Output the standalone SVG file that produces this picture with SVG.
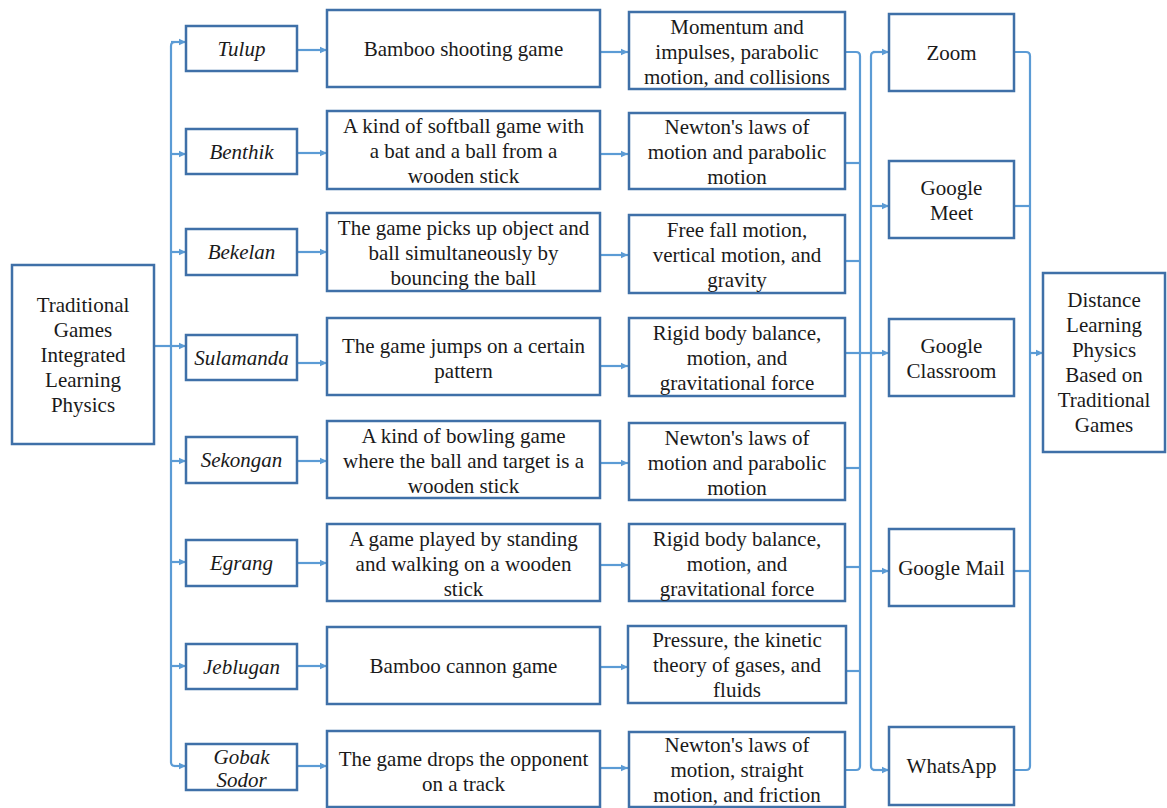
<svg xmlns="http://www.w3.org/2000/svg" width="1167" height="808" viewBox="0 0 1167 808">
<style>
.box{fill:#fff;stroke:#3F70A8;stroke-width:2.5}
.ln{fill:none;stroke:#5B9BD5;stroke-width:2.2}
.ar{fill:none;stroke:#5B9BD5;stroke-width:2.2;marker-end:url(#ah)}
text{font-family:'Liberation Serif','DejaVu Serif',serif;font-size:21px;fill:#1a1a1a;text-anchor:middle}
.it{font-style:italic}
</style>
<defs>
<marker id="ah" markerUnits="userSpaceOnUse" markerWidth="8" markerHeight="8" refX="7" refY="4" orient="auto">
<path d="M0,0.8 L7,4 L0,7.2 Z" fill="#5B9BD5"/>
</marker>
</defs>
<rect width="1167" height="808" fill="#fff"/>

<g id="connectors">
<path class="ln" d="M154,346 H171"/>
<path class="ln" d="M184,42 H175 Q171,42 171,46 V762 Q171,766 175,766 H182"/>
<path class="ar" d="M171,42 H186"/>
<path class="ar" d="M171,154 H186"/>
<path class="ar" d="M171,252 H186"/>
<path class="ar" d="M171,346 H186"/>
<path class="ar" d="M171,461 H186"/>
<path class="ar" d="M171,562 H186"/>
<path class="ar" d="M171,666 H186"/>
<path class="ar" d="M174,766 H186"/>
<path class="ar" d="M297,50 H327"/>
<path class="ar" d="M297,153 H327"/>
<path class="ar" d="M297,252 H327"/>
<path class="ar" d="M297,363 H327"/>
<path class="ar" d="M297,461 H327"/>
<path class="ar" d="M297,563 H327"/>
<path class="ar" d="M297,666 H327"/>
<path class="ar" d="M297,766 H327"/>
<path class="ar" d="M600,52 H628"/>
<path class="ar" d="M600,154 H628"/>
<path class="ar" d="M600,255 H628"/>
<path class="ar" d="M600,366 H628"/>
<path class="ar" d="M600,463 H628"/>
<path class="ar" d="M600,565 H628"/>
<path class="ar" d="M600,667 H628"/>
<path class="ar" d="M600,768 H628"/>
<path class="ln" d="M845,52 H856 Q860,52 860,56 V766 Q860,770 856,770 H845"/>
<path class="ln" d="M845,163 H860"/>
<path class="ln" d="M845,261 H860"/>
<path class="ln" d="M845,468 H860"/>
<path class="ln" d="M845,567 H860"/>
<path class="ln" d="M845,671 H860"/>
<path class="ln" d="M845,353 H875"/>
<path class="ln" d="M878,52 H875 Q871,52 871,56 V766 Q871,770 875,770 H878"/>
<path class="ar" d="M873,52 H889"/>
<path class="ar" d="M871,206 H889"/>
<path class="ar" d="M871,353 H889"/>
<path class="ar" d="M871,571 H889"/>
<path class="ar" d="M873,770 H889"/>
<path class="ln" d="M1014,52 H1026 Q1030,52 1030,56 V766 Q1030,770 1026,770 H1014"/>
<path class="ln" d="M1014,206 H1030"/>
<path class="ln" d="M1014,571 H1030"/>
<path class="ar" d="M1030,353 H1043"/>
</g>

<g id="n-root">
<rect class="box" x="12" y="265" width="142" height="179"/>
<text x="83" y="312">Traditional</text>
<text x="83" y="337">Games</text>
<text x="83" y="362">Integrated</text>
<text x="83" y="387">Learning</text>
<text x="83" y="412">Physics</text>
</g>

<g id="n-tulup"><rect class="box" x="186" y="26" width="111" height="45"/><text class="it" x="241.5" y="56">Tulup</text></g>
<g id="n-benthik"><rect class="box" x="186" y="129" width="111" height="45"/><text class="it" x="241.5" y="159">Benthik</text></g>
<g id="n-bekelan"><rect class="box" x="186" y="229" width="111" height="46"/><text class="it" x="241.5" y="259">Bekelan</text></g>
<g id="n-sulamanda"><rect class="box" x="186" y="335" width="111" height="45"/><text class="it" x="241.5" y="365">Sulamanda</text></g>
<g id="n-sekongan"><rect class="box" x="186" y="437" width="111" height="46"/><text class="it" x="241.5" y="467">Sekongan</text></g>
<g id="n-egrang"><rect class="box" x="186" y="540" width="111" height="46"/><text class="it" x="241.5" y="570">Egrang</text></g>
<g id="n-jeblugan"><rect class="box" x="186" y="644" width="111" height="45"/><text class="it" x="241.5" y="674">Jeblugan</text></g>
<g id="n-gobak"><rect class="box" x="186" y="744" width="111" height="46"/><text class="it" x="241.5" y="764">Gobak</text><text class="it" x="241.5" y="787">Sodor</text></g>

<g id="g1"><rect class="box" x="327" y="10" width="273" height="77"/><text x="463.5" y="56">Bamboo shooting game</text></g>
<g id="g2"><rect class="box" x="327" y="111" width="273" height="78"/><text x="463.5" y="133">A kind of softball game with</text><text x="463.5" y="158">a bat and a ball from a</text><text x="463.5" y="183">wooden stick</text></g>
<g id="g3"><rect class="box" x="327" y="213" width="273" height="78"/><text x="463.5" y="235">The game picks up object and</text><text x="463.5" y="260">ball simultaneously by</text><text x="463.5" y="285">bouncing the ball</text></g>
<g id="g4"><rect class="box" x="327" y="318" width="273" height="77"/><text x="463.5" y="353">The game jumps on a certain</text><text x="463.5" y="378">pattern</text></g>
<g id="g5"><rect class="box" x="327" y="421" width="273" height="77"/><text x="463.5" y="443">A kind of bowling game</text><text x="463.5" y="468">where the ball and target is a</text><text x="463.5" y="493">wooden stick</text></g>
<g id="g6"><rect class="box" x="327" y="524" width="273" height="77"/><text x="463.5" y="546">A game played by standing</text><text x="463.5" y="571">and walking on a wooden</text><text x="463.5" y="596">stick</text></g>
<g id="g7"><rect class="box" x="327" y="627" width="273" height="77"/><text x="463.5" y="673">Bamboo cannon game</text></g>
<g id="g8"><rect class="box" x="327" y="731" width="273" height="76"/><text x="463.5" y="766">The game drops the opponent</text><text x="463.5" y="791">on a track</text></g>

<g id="p1"><rect class="box" x="629" y="12" width="216" height="77"/><text x="737" y="34">Momentum and</text><text x="737" y="59">impulses, parabolic</text><text x="737" y="84">motion, and collisions</text></g>
<g id="p2"><rect class="box" x="629" y="113" width="216" height="76"/><text x="737" y="134">Newton's laws of</text><text x="737" y="159">motion and parabolic</text><text x="737" y="184">motion</text></g>
<g id="p3"><rect class="box" x="629" y="215" width="216" height="78"/><text x="737" y="237">Free fall motion,</text><text x="737" y="262">vertical motion, and</text><text x="737" y="287">gravity</text></g>
<g id="p4"><rect class="box" x="629" y="318" width="216" height="78"/><text x="737" y="340">Rigid body balance,</text><text x="737" y="365">motion, and</text><text x="737" y="390">gravitational force</text></g>
<g id="p5"><rect class="box" x="629" y="423" width="216" height="77"/><text x="737" y="445">Newton's laws of</text><text x="737" y="470">motion and parabolic</text><text x="737" y="495">motion</text></g>
<g id="p6"><rect class="box" x="629" y="524" width="216" height="77"/><text x="737" y="546">Rigid body balance,</text><text x="737" y="571">motion, and</text><text x="737" y="596">gravitational force</text></g>
<g id="p7"><rect class="box" x="628" y="626" width="218" height="77"/><text x="737" y="647">Pressure, the kinetic</text><text x="737" y="672">theory of gases, and</text><text x="737" y="697">fluids</text></g>
<g id="p8"><rect class="box" x="629" y="732" width="216" height="75"/><text x="737" y="752">Newton's laws of</text><text x="737" y="777">motion, straight</text><text x="737" y="802">motion, and friction</text></g>

<g id="m-zoom"><rect class="box" x="889" y="14" width="125" height="77"/><text x="951.5" y="60">Zoom</text></g>
<g id="m-meet"><rect class="box" x="889" y="161" width="125" height="77"/><text x="951.5" y="195">Google</text><text x="951.5" y="220">Meet</text></g>
<g id="m-classroom"><rect class="box" x="889" y="319" width="125" height="77"/><text x="951.5" y="353">Google</text><text x="951.5" y="378">Classroom</text></g>
<g id="m-mail"><rect class="box" x="889" y="529" width="125" height="77"/><text x="951.5" y="575">Google Mail</text></g>
<g id="m-whatsapp"><rect class="box" x="889" y="727" width="125" height="78"/><text x="951.5" y="773">WhatsApp</text></g>

<g id="n-result">
<rect class="box" x="1043" y="273" width="122" height="179"/>
<text x="1104" y="307">Distance</text>
<text x="1104" y="332">Learning</text>
<text x="1104" y="357">Physics</text>
<text x="1104" y="382">Based on</text>
<text x="1104" y="407">Traditional</text>
<text x="1104" y="432">Games</text>
</g>
</svg>
